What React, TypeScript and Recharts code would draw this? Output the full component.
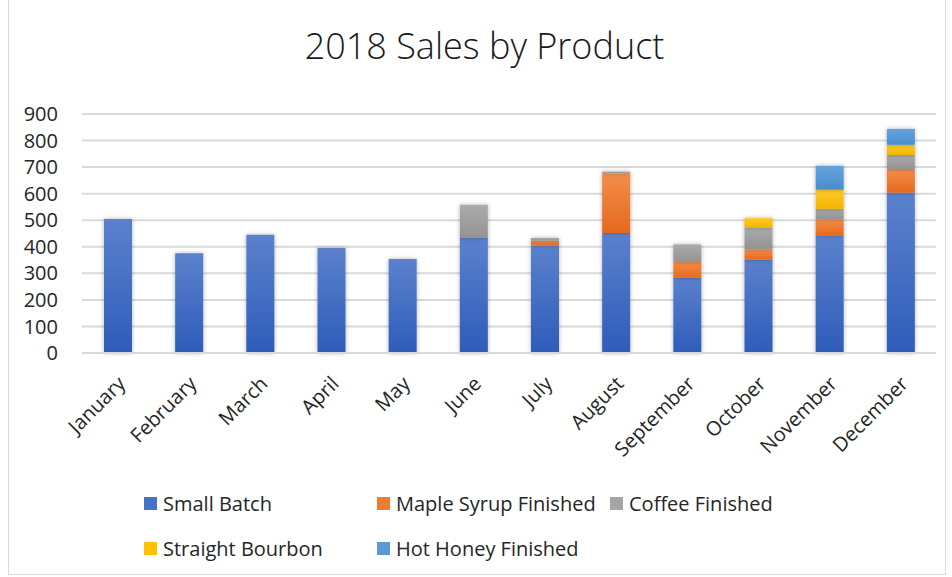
import React from "react";
import { BarChart, Bar, XAxis, YAxis, CartesianGrid } from "recharts";

const months = [
  "January", "February", "March", "April", "May", "June",
  "July", "August", "September", "October", "November", "December",
];
const smallBatch = [505, 376, 445, 395, 354, 433, 405, 452, 283, 351, 443, 604];
const mapleSyrup = [0, 0, 0, 0, 0, 0, 18, 225, 60, 40, 61, 89];
const coffee = [0, 0, 0, 0, 0, 125, 10, 6, 66, 82, 39, 53];
const bourbon = [0, 0, 0, 0, 0, 0, 0, 0, 0, 35, 72, 38];
const hotHoney = [0, 0, 0, 0, 0, 0, 0, 0, 0, 0, 90, 60];
const yTicks = [0, 100, 200, 300, 400, 500, 600, 700, 800, 900];

const series = [
  { key: "smallBatch", name: "Small Batch", color: "#4472C4", top: "#5B81CD", bottom: "#2E5CB9" },
  { key: "mapleSyrup", name: "Maple Syrup Finished", color: "#ED7D31", top: "#F38D4C", bottom: "#E56A1D" },
  { key: "coffee", name: "Coffee Finished", color: "#A5A5A5", top: "#ABABAB", bottom: "#939393" },
  { key: "bourbon", name: "Straight Bourbon", color: "#FFC000", top: "#FFC928", bottom: "#F2B600" },
  { key: "hotHoney", name: "Hot Honey Finished", color: "#5B9BD5", top: "#64A3DD", bottom: "#4A8DCD" },
];

const data = months.map((m, i) => ({
  month: m,
  smallBatch: smallBatch[i],
  mapleSyrup: mapleSyrup[i],
  coffee: coffee[i],
  bourbon: bourbon[i],
  hotHoney: hotHoney[i],
}));

const FONT = "'Open Sans', sans-serif";
const TEXT = "#262626";

const MonthTick = ({ x, y, payload }: any) => {
  const ax = x + 9;
  const ay = y + 24;
  return (
    <text
      x={ax}
      y={ay}
      transform={`rotate(-45 ${ax} ${ay})`}
      textAnchor="end"
      fill={TEXT}
      fontSize={20}
      fontFamily={FONT}
    >
      {payload.value}
    </text>
  );
};

export default function App() {
  return (
    <div style={{ position: "relative", width: 952, height: 577, background: "#fff", overflow: "hidden" }}>
      <style>{`body{margin:0} .recharts-bar-rectangles{filter:url(#barShadow)}`}</style>
      <div
        style={{
          position: "absolute",
          left: 8,
          top: -2,
          width: 938,
          height: 577,
          border: "1px solid #D9D9D9",
          boxSizing: "border-box",
        }}
      />
      <div
        style={{
          position: "absolute",
          left: 0,
          top: 28,
          width: 969,
          textAlign: "center",
          fontFamily: FONT,
          fontSize: 36,
          lineHeight: "36px",
          fontWeight: 300,
          color: "#1a1a1a",
        }}
      >
        2018 Sales by Product
      </div>
      <div style={{ position: "absolute", left: 0, top: 0 }}>
        <BarChart
          width={952}
          height={470}
          data={data}
          margin={{ top: 114, right: 16, left: 0, bottom: 0 }}
        >
          <defs>
            {series.map((s) => (
              <linearGradient key={s.key} id={`grad-${s.key}`} x1="0" y1="0" x2="0" y2="1">
                <stop offset="0%" stopColor={s.top} />
                <stop offset="100%" stopColor={s.bottom} />
              </linearGradient>
            ))}
            <filter id="barShadow" x="-20%" y="-20%" width="140%" height="140%">
              <feDropShadow dx="0" dy="0" stdDeviation="2" floodColor="#000" floodOpacity="0.3" />
            </filter>
          </defs>
          <CartesianGrid vertical={false} stroke="#D9D9D9" strokeWidth={2} />
          <XAxis
            dataKey="month"
            interval={0}
            height={117}
            tickLine={false}
            axisLine={{ stroke: "#D9D9D9", strokeWidth: 2 }}
            tick={<MonthTick />}
          />
          <YAxis
            width={82}
            domain={[0, 900]}
            ticks={yTicks}
            interval={0}
            axisLine={false}
            tickLine={false}
            tickSize={0}
            tickMargin={24}
            tick={{ fill: TEXT, fontSize: 20, fontFamily: FONT }}
          />
          {series.map((s) => (
            <Bar
              key={s.key}
              dataKey={s.key}
              name={s.name}
              stackId="a"
              barSize={28}
              fill={`url(#grad-${s.key})`}
              isAnimationActive={false}
            />
          ))}
        </BarChart>
      </div>
      <div
        style={{
          position: "absolute",
          left: 144,
          top: 481,
          width: 780,
          display: "flex",
          flexWrap: "wrap",
          fontFamily: FONT,
          fontSize: 20,
          color: TEXT,
        }}
      >
        {series.map((s, i) => (
          <div
            key={s.key}
            style={{
              width: i === 2 ? 300 : 233,
              height: 45,
              display: "flex",
              alignItems: "center",
              whiteSpace: "nowrap",
            }}
          >
            <span
              style={{
                display: "inline-block",
                width: 13,
                height: 13,
                background: s.color,
                marginRight: 6,
              }}
            />
            {s.name}
          </div>
        ))}
      </div>
    </div>
  );
}
